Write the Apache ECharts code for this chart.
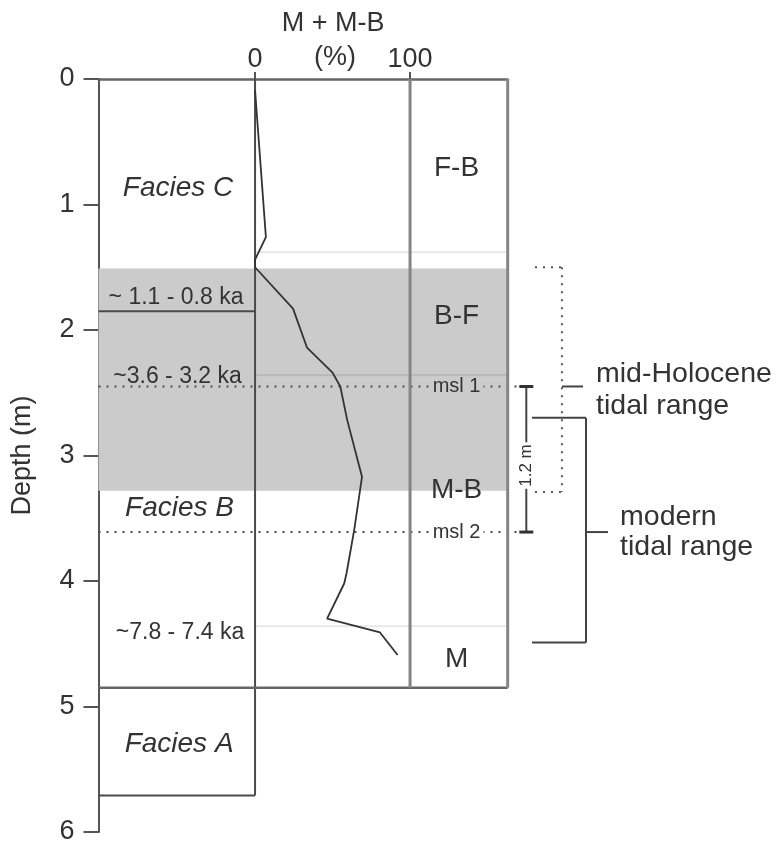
<!DOCTYPE html>
<html><head><meta charset="utf-8">
<script src="https://cdn.jsdelivr.net/npm/echarts@6/dist/echarts.min.js"></script>
<style>html,body{margin:0;padding:0;background:#fff}#c{width:778px;height:844px}</style>
</head><body><div id="c"></div>
<script>
// ---------- data ----------
const depthTicks = [0, 1, 2, 3, 4, 5, 6];
const pctTickValues = [0, 100];
const curveDepth = [0.09, 1.26, 1.44, 1.50, 1.83, 2.14, 2.34, 2.45, 2.72, 3.17, 3.59, 3.94, 4.02, 4.30, 4.41, 4.59];
const curvePct   = [0,    7,    0,    0,    24.5, 33.5, 50,   55,   59.5, 69,   64,   59,   57.5, 46.5, 80.6, 92];

const pctMin = -101, pctMax = 163;
const columnTop = 0;
const mainBottom = 4.85;
const faciesABottom = 5.71;
const grayBand = [1.51, 3.28];
const ageBoundary = 1.85;
const lightLines = [1.38, 2.36, 4.36];
const mslDepth = [2.45, 3.61];
const mslNames = ['msl 1', 'msl 2'];
const mslLineEnd = 170;

const faciesNames = ['Facies C', 'Facies B', 'Facies A'];
const faciesX = [-49.7, -48.7, -49];
const faciesDepth = [0.87, 3.42, 5.30];

const ageNames = ['~ 1.1 - 0.8 ka', '~3.6 - 3.2 ka', '~7.8 - 7.4 ka'];
const ageX = [-51, -50, -48.4];
const ageDepth = [1.745, 2.37, 4.41];

const zoneNames = ['F-B', 'B-F', 'M-B', 'M'];
const zoneX = 130;
const zoneDepth = [0.71, 1.89, 3.28, 4.62];

const scaleBarX = 175;
const scaleBarLabel = '1.2 m';
const scaleBarLabelDepth = 3.08;

const midHoloceneRange = [1.50, 3.29];
const midHoloceneX = [180.6, 198, 211.6]; // bracket left, bracket spine, tick end
const modernRange = [2.70, 4.49];
const modernX = [178.7, 213.5, 227.7];

const rangeLabels = ['mid-Holocene', 'tidal range', 'modern', 'tidal range'];
const rangeLabelX = [220, 220, 235.5, 235.5];
const rangeLabelDepth = [2.35, 2.61, 3.49, 3.73];

const axisTitle = ['M + M-B', '(%)'];
const axisTitleX = [50.3, 51.6];
const axisTitleDepth = [-0.44, -0.167];

// ---------- helpers ----------
const FONT = '"Liberation Sans", Arial, Helvetica, sans-serif';
function segSeries(segs, style, z) {
  return {
    type: 'custom', silent: true, clip: false, z: z || 3,
    data: segs,
    encode: { x: [0, 2], y: [1, 3] },
    renderItem: function (params, api) {
      const p0 = api.coord([api.value(0), api.value(1)]);
      const p1 = api.coord([api.value(2), api.value(3)]);
      return { type: 'line', shape: { x1: p0[0], y1: p0[1], x2: p1[0], y2: p1[1] }, style: Object.assign({ fill: null }, style) };
    }
  };
}
function rectSeries(rects, style, z) {
  return {
    type: 'custom', silent: true, clip: false, z: z || 1,
    data: rects,
    encode: { x: [0, 2], y: [1, 3] },
    renderItem: function (params, api) {
      const p0 = api.coord([api.value(0), api.value(1)]);
      const p1 = api.coord([api.value(2), api.value(3)]);
      return { type: 'rect', shape: { x: p0[0], y: p0[1], width: p1[0] - p0[0], height: p1[1] - p0[1] }, style: style };
    }
  };
}
function textSeries(texts, xs, ys, style, opts) {
  opts = opts || {};
  return {
    type: 'custom', silent: true, clip: false, z: opts.z || 10,
    data: texts.map(function (t, i) { return [Array.isArray(xs) ? xs[i] : xs, ys[i]]; }),
    renderItem: function (params, api) {
      const p = api.coord([api.value(0), api.value(1)]);
      const i = params.dataIndex;
      const st = Object.assign({ text: texts[i], align: opts.align || 'center', verticalAlign: 'middle', fill: '#333', fontFamily: FONT }, style);
      if (opts.bg) { st.backgroundColor = opts.bg[i]; st.padding = opts.padding || [0, 2]; }
      return { type: 'text', x: p[0], y: p[1], rotation: opts.rotation || 0, style: st };
    }
  };
}
function inGray(d) { return d >= grayBand[0] && d <= grayBand[1]; }

// ---------- series ----------
const series = [];
series.push(rectSeries([[pctMin, grayBand[0], pctMax, grayBand[1]]], { fill: '#cbcbcb' }, 1));
series.push(segSeries(lightLines.map(function (d) { return [0, d, pctMax, d]; }), { stroke: 'rgba(0,0,0,0.09)', lineWidth: 2 }, 2));
series.push(segSeries(mslDepth.map(function (d) { return [pctMin, d, mslLineEnd, d]; }), { stroke: '#4a4a4a', lineWidth: 2, lineDash: [2, 6] }, 3));
series.push(segSeries([
  [0, columnTop, 0, faciesABottom],
  [pctMin, ageBoundary, 0, ageBoundary],
  [pctMin, faciesABottom, 0, faciesABottom]
], { stroke: '#4a4a4a', lineWidth: 2 }, 4));
series.push(segSeries([[pctMin, mainBottom, pctMax, mainBottom]], { stroke: '#666', lineWidth: 2.5 }, 4));
series.push(segSeries([[100, columnTop, 100, mainBottom], [pctMax, columnTop, pctMax, mainBottom]], { stroke: '#858585', lineWidth: 3 }, 4));
series.push(segSeries([[scaleBarX, mslDepth[0], scaleBarX, mslDepth[1]]], { stroke: '#444', lineWidth: 2 }, 4));
series.push({
  type: 'custom', silent: true, clip: false, z: 4,
  data: mslDepth.map(function (d) { return [scaleBarX, d]; }),
  renderItem: function (params, api) {
    const p = api.coord([api.value(0), api.value(1)]);
    return { type: 'line', shape: { x1: p[0] - 7, y1: p[1], x2: p[0] + 7, y2: p[1] }, style: { stroke: '#333', lineWidth: 3 } };
  }
});
series.push(segSeries([
  [midHoloceneX[0], midHoloceneRange[0], midHoloceneX[1], midHoloceneRange[0]],
  [midHoloceneX[1], midHoloceneRange[0], midHoloceneX[1], midHoloceneRange[1]],
  [midHoloceneX[0], midHoloceneRange[1], midHoloceneX[1], midHoloceneRange[1]]
], { stroke: '#555', lineWidth: 2, lineDash: [2, 6] }, 4));
series.push(segSeries([[midHoloceneX[1], mslDepth[0], midHoloceneX[2], mslDepth[0]]], { stroke: '#444', lineWidth: 2 }, 4));
series.push(segSeries([
  [modernX[0], modernRange[0], modernX[1], modernRange[0]],
  [modernX[1], modernRange[0], modernX[1], modernRange[1]],
  [modernX[0], modernRange[1], modernX[1], modernRange[1]],
  [modernX[1], mslDepth[1], modernX[2], mslDepth[1]]
], { stroke: '#444', lineWidth: 2 }, 4));
series.push({
  type: 'line', silent: true, z: 6, symbol: 'none', smooth: false,
  data: curvePct.map(function (p, i) { return [p, curveDepth[i]]; }),
  lineStyle: { color: '#333', width: 1.8 }
});
series.push(textSeries(faciesNames, faciesX, faciesDepth, { fontSize: 28, fontStyle: 'italic' }));
series.push(textSeries(ageNames, ageX, ageDepth, { fontSize: 23 }));
series.push(textSeries(zoneNames, zoneX, zoneDepth, { fontSize: 28 }));
series.push(textSeries(mslNames, zoneX, mslDepth, { fontSize: 20 }, { bg: mslDepth.map(function (d) { return inGray(d) ? '#cbcbcb' : '#fff'; }), padding: [0, 3] }));
series.push(textSeries([scaleBarLabel], scaleBarX, [scaleBarLabelDepth], { fontSize: 17 }, { rotation: Math.PI / 2, bg: ['#fff'], padding: [0, 2] }));
series.push(textSeries(rangeLabels, rangeLabelX, rangeLabelDepth, { fontSize: 28.5 }, { align: 'left' }));
series.push(textSeries(axisTitle, axisTitleX, axisTitleDepth, { fontSize: 27 }));

// ---------- chart ----------
const chart = echarts.init(document.getElementById('c'), null, { renderer: 'canvas' });
chart.setOption({
  animation: false,
  backgroundColor: '#fff',
  grid: { left: 98.5, top: 79, width: 409.2, height: 753, containLabel: false, outerBoundsMode: 'none' },
  xAxis: {
    type: 'value', position: 'top', min: pctMin, max: pctMax,
    axisLine: { show: true, onZero: false, lineStyle: { color: '#666', width: 2.5 } },
    axisTick: { show: true, inside: false, length: 7, customValues: pctTickValues, lineStyle: { color: '#555', width: 2 } },
    axisLabel: { show: true, customValues: pctTickValues, margin: 6, fontSize: 27, color: '#333', fontFamily: FONT },
    splitLine: { show: false }
  },
  yAxis: {
    type: 'value', inverse: true, min: 0, max: 6, interval: 1,
    name: 'Depth (m)', nameLocation: 'middle', nameGap: 62, nameRotate: 90,
    nameTextStyle: { fontSize: 27, color: '#333', fontFamily: FONT },
    axisLine: { show: true, onZero: false, lineStyle: { color: '#555', width: 2 } },
    axisTick: { show: true, inside: false, length: 15, lineStyle: { color: '#555', width: 2 } },
    axisLabel: { show: true, margin: 24, fontSize: 27, color: '#333', fontFamily: FONT,
      formatter: function (v) { return depthTicks.indexOf(v) >= 0 ? String(v) : ''; } },
    splitLine: { show: false }
  },
  series: series
});
</script>
</body></html>
